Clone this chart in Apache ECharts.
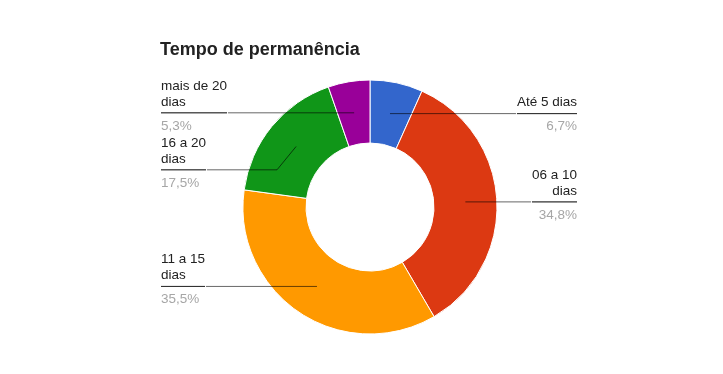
<!DOCTYPE html>
<html>
<head>
<meta charset="utf-8">
<script src="https://cdn.jsdelivr.net/npm/echarts@6/dist/echarts.min.js"></script>
<style>
html,body{margin:0;padding:0;background:#fff;}
#chart{width:723px;height:374px;}
</style>
</head>
<body>
<div id="chart"></div>
<script>
const title = 'Tempo de permanência';
const categories = ['Até 5 dias', '06 a 10\ndias', '11 a 15\ndias', '16 a 20\ndias', 'mais de 20\ndias'];
const values = [6.7, 34.8, 35.5, 17.5, 5.3];
const palette = ['#3366cc', '#dc3912', '#ff9900', '#109618', '#990099'];

const FONT = '"Liberation Sans", Arial, sans-serif';
const FS = 13.5;
const LINE = 'rgba(0,0,0,0.6)';
const data = categories.map((c, i) => ({ name: c, value: values[i] }));

function fmt(p) {
  const lines = p.name.split('\n');
  const pct = p.value.toFixed(1).replace('.', ',') + '%';
  if (lines.length > 1) {
    return '{a|' + lines[0] + '}\n{b|' + lines[1] + '}\n{hr|}\n{p|' + pct + '}';
  }
  return '{s|' + lines[0] + '}\n{hr|}\n{q|' + pct + '}';
}

const chart = echarts.init(document.getElementById('chart'), null, { renderer: 'canvas' });
chart.setOption({
  backgroundColor: '#ffffff',
  animation: false,
  color: palette,
  title: {
    text: title,
    left: 160,
    top: 41,
    padding: 0,
    textStyle: { fontFamily: FONT, fontSize: 18, fontWeight: 'bold', color: '#222222' }
  },
  series: [
    {
      type: 'pie',
      silent: true,
      z: 2,
      center: [370, 207],
      radius: [64, 127],
      startAngle: 90,
      clockwise: true,
      label: { show: false },
      labelLine: { show: false },
      itemStyle: { borderColor: '#ffffff', borderWidth: 1 },
      data: data
    },
    {
      type: 'pie',
      silent: true,
      z: 5,
      left: 0,
      top: 0,
      width: 738,
      height: 374,
      center: [370, 207],
      radius: [0, 95.5],
      startAngle: 90,
      clockwise: true,
      avoidLabelOverlap: true,
      itemStyle: { color: 'rgba(0,0,0,0)' },
      label: {
        show: true,
        position: 'outer',
        alignTo: 'edge',
        edgeDistance: 161,
        distanceToLabelLine: 0,
        fontFamily: FONT,
        fontSize: FS,
        formatter: fmt,
        rich: {
          a: { fontFamily: FONT, fontSize: FS, color: '#222222', height: 16, lineHeight: 9.5, verticalAlign: 'bottom' },
          b: { fontFamily: FONT, fontSize: FS, color: '#222222', height: 16, padding: [0, 0, 3, 0] },
          s: { fontFamily: FONT, fontSize: FS, color: '#222222', height: 16, padding: [2, 0, 3, 0] },
          hr: { borderColor: LINE, borderWidth: 1, width: '100%', height: 0 },
          p: { fontFamily: FONT, fontSize: FS, color: '#a6a6a6', height: 16, padding: [5, 0, 7.5, 0] },
          q: { fontFamily: FONT, fontSize: FS, color: '#a6a6a6', height: 16, padding: [5, 0, 0, 0] }
        }
      },
      labelLine: {
        show: true,
        length: 0,
        length2: 5,
        lineStyle: { color: LINE, width: 1 }
      },
      data: data
    }
  ]
});
</script>
</body>
</html>
